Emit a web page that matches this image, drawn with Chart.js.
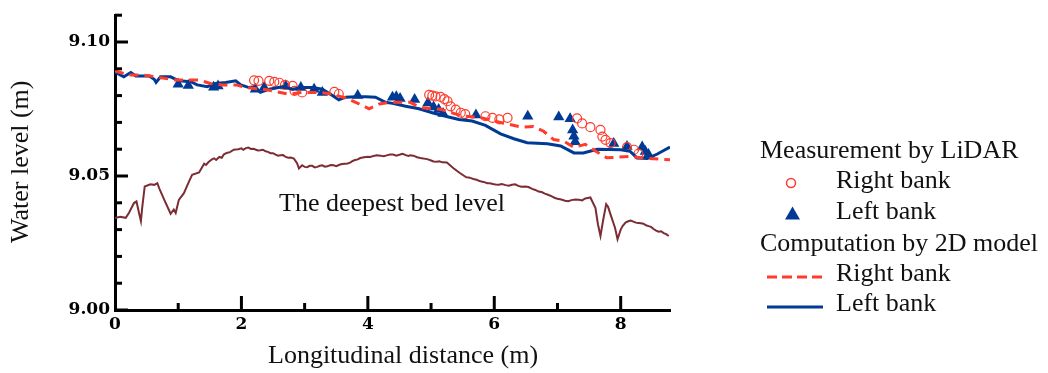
<!DOCTYPE html>
<html lang="en">
<head>
    <meta charset="UTF-8">
    <title>Water level profile</title>
    <style>
        body { margin: 0; background: #fff; }
        #wrap { position: relative; width: 1048px; height: 373px; }
        .txt {
            position: absolute;
            font-family: "Liberation Serif", "Times New Roman", serif;
            font-size: 26px;
            line-height: 30px;
            color: #111;
            white-space: nowrap;
        }
        #legend-marks { position: absolute; left: 0; top: 0; }
    </style>
</head>
<body>
<div id="wrap">
    <canvas id="chart"></canvas>

    <div class="txt" style="left:5px; top:243px; transform-origin:0 0; transform:rotate(-90deg);">Water level (m)</div>
    <div class="txt" style="left:268px; top:340px;">Longitudinal distance (m)</div>
    <div class="txt" style="left:279px; top:188px;">The deepest bed level</div>

    <div class="txt" style="left:760px; top:135px;">Measurement by LiDAR</div>
    <div class="txt" style="left:836px; top:165px;">Right bank</div>
    <div class="txt" style="left:836px; top:196px;">Left bank</div>
    <div class="txt" style="left:760px; top:228px;">Computation by 2D model</div>
    <div class="txt" style="left:836px; top:258px;">Right bank</div>
    <div class="txt" style="left:836px; top:288px;">Left bank</div>

    <svg id="legend-marks" width="1048" height="373">
        <circle cx="791" cy="183" r="4.5" fill="none" stroke="#ff3b2b" stroke-width="1.5"/>
        <polygon points="785,219.5 800,219.5 792.5,206.5" fill="#003a94"/>
        <line x1="767" y1="277" x2="823" y2="277" stroke="#ff3b2b" stroke-width="3" stroke-dasharray="10,5"/>
        <line x1="767" y1="307" x2="823" y2="307" stroke="#003a94" stroke-width="3"/>
    </svg>
</div>

<script src="https://cdn.jsdelivr.net/npm/chart.js"></script>
<script>
    // tick labels shown on the axes
    const xTickLabels = ['0', '2', '4', '6', '8'];
    const yTickLabels = ['9.00', '9.05', '9.10'];

    // deepest bed level
    const bedX = [
        0.00, 0.08, 0.17, 0.22, 0.30, 0.34, 0.38, 0.41, 0.43, 0.47,
        0.56, 0.62, 0.67, 0.70, 0.78, 0.88, 0.93, 0.96, 1.01, 1.09,
        1.17, 1.22, 1.33, 1.41, 1.44, 1.48, 1.51, 1.54, 1.57, 1.60,
        1.65, 1.69, 1.72, 1.75, 1.78, 1.82, 1.85, 1.88, 1.91, 1.95,
        2.00, 2.03, 2.07, 2.11, 2.15, 2.19, 2.22, 2.26, 2.30, 2.34,
        2.38, 2.42, 2.46, 2.50, 2.54, 2.58, 2.62, 2.66, 2.70, 2.74,
        2.78, 2.83, 2.88, 2.91, 2.96, 3.00, 3.04, 3.08, 3.12, 3.16,
        3.20, 3.24, 3.28, 3.32, 3.36, 3.41, 3.46, 3.50, 3.55, 3.59,
        3.64, 3.68, 3.72, 3.76, 3.80, 3.84, 3.88, 3.94, 4.00, 4.04,
        4.09, 4.14, 4.20, 4.25, 4.30, 4.35, 4.40, 4.45, 4.51, 4.55,
        4.60, 4.64, 4.67, 4.72, 4.78, 4.83, 4.88, 4.94, 5.00, 5.04,
        5.09, 5.13, 5.18, 5.25, 5.30, 5.36, 5.45, 5.52, 5.56, 5.60,
        5.63, 5.67, 5.72, 5.78, 5.83, 5.89, 5.93, 5.98, 6.02, 6.07,
        6.12, 6.18, 6.23, 6.28, 6.33, 6.38, 6.43, 6.49, 6.54, 6.60,
        6.65, 6.70, 6.75, 6.80, 6.85, 6.91, 6.96, 7.00, 7.06, 7.12,
        7.17, 7.22, 7.28, 7.34, 7.39, 7.44, 7.48, 7.52, 7.60, 7.64,
        7.68, 7.72, 7.77, 7.80, 7.84, 7.91, 7.95, 8.00, 8.03, 8.08,
        8.13, 8.16, 8.20, 8.24, 8.28, 8.32, 8.36, 8.40, 8.44, 8.48,
        8.52, 8.56, 8.60, 8.64, 8.68, 8.72, 8.76];
    const bedY = [
        9.0343, 9.0348, 9.0344, 9.0362, 9.0399, 9.0405, 9.0362, 9.0332, 9.0381, 9.0461,
        9.0469, 9.0467, 9.0473, 9.0454, 9.0411, 9.0359, 9.0375, 9.0362, 9.0411, 9.0436,
        9.0479, 9.0504, 9.0513, 9.0546, 9.0541, 9.0552, 9.0558, 9.0563, 9.0566, 9.0560,
        9.0571, 9.0568, 9.0580, 9.0584, 9.0587, 9.0589, 9.0594, 9.0598, 9.0599, 9.0600,
        9.0603, 9.0598, 9.0604, 9.0606, 9.0601, 9.0602, 9.0599, 9.0595, 9.0596, 9.0598,
        9.0592, 9.0590, 9.0585, 9.0585, 9.0580, 9.0576, 9.0577, 9.0578, 9.0571, 9.0568,
        9.0569, 9.0565, 9.0548, 9.0528, 9.0540, 9.0534, 9.0533, 9.0538, 9.0538, 9.0532,
        9.0534, 9.0538, 9.0540, 9.0535, 9.0536, 9.0541, 9.0540, 9.0537, 9.0542, 9.0545,
        9.0546, 9.0547, 9.0550, 9.0556, 9.0560, 9.0562, 9.0567, 9.0570, 9.0572, 9.0571,
        9.0575, 9.0577, 9.0576, 9.0574, 9.0577, 9.0580, 9.0580, 9.0576, 9.0580, 9.0583,
        9.0578, 9.0575, 9.0577, 9.0576, 9.0570, 9.0567, 9.0565, 9.0563, 9.0558, 9.0554,
        9.0553, 9.0555, 9.0551, 9.0550, 9.0540, 9.0528, 9.0512, 9.0501, 9.0495, 9.0494,
        9.0492, 9.0489, 9.0486, 9.0480, 9.0478, 9.0473, 9.0473, 9.0470, 9.0468, 9.0467,
        9.0470, 9.0466, 9.0464, 9.0467, 9.0469, 9.0463, 9.0460, 9.0461, 9.0459, 9.0452,
        9.0448, 9.0442, 9.0440, 9.0434, 9.0430, 9.0424, 9.0418, 9.0415, 9.0412, 9.0408,
        9.0406, 9.0410, 9.0412, 9.0411, 9.0409, 9.0416, 9.0418, 9.0420, 9.0381, 9.0320,
        9.0276, 9.0332, 9.0395, 9.0385, 9.0356, 9.0307, 9.0264, 9.0300, 9.0313, 9.0327,
        9.0332, 9.0334, 9.0330, 9.0326, 9.0325, 9.0324, 9.0322, 9.0316, 9.0313, 9.0310,
        9.0302, 9.0296, 9.0292, 9.0294, 9.0287, 9.0283, 9.0276];

    // computation by 2D model, right bank (dashed)
    const calcRightX = [0.00, 0.22, 0.43, 0.64, 0.96, 1.14, 1.33, 1.51, 1.70, 1.91, 2.09, 2.40, 2.75, 2.96, 3.23, 3.44, 3.65,
        3.86, 4.02, 4.18, 4.36, 4.67, 4.83, 5.15, 5.47, 5.78, 6.15, 6.44, 6.62, 6.78, 6.94, 7.10, 7.26, 7.44, 7.60, 7.78,
        7.94, 8.15, 8.36, 8.68, 8.78];
    const calcRightY = [9.0892, 9.0877, 9.0877, 9.0870, 9.0858, 9.0858, 9.0858, 9.0845, 9.0840, 9.0840, 9.0830, 9.0822,
        9.0805, 9.0812, 9.0812, 9.0805, 9.0791, 9.0769, 9.0751, 9.0769, 9.0775, 9.0775, 9.0755, 9.0749, 9.0725, 9.0718,
        9.0697, 9.0682, 9.0685, 9.0667, 9.0636, 9.0630, 9.0607, 9.0618, 9.0593, 9.0568, 9.0570, 9.0573, 9.0567, 9.0562,
        9.0561];

    // computation by 2D model, left bank (solid)
    const calcLeftX = [0.00, 0.06, 0.14, 0.25, 0.33, 0.54, 0.62, 0.65, 0.72, 0.88, 1.01, 1.20, 1.30, 1.46, 1.59, 1.75, 1.91,
        1.99, 2.12, 2.20, 2.30, 2.44, 2.65, 2.81, 2.96, 3.12, 3.28, 3.44, 3.54, 3.65, 3.81, 3.97, 4.12, 4.28, 4.39, 4.60,
        4.81, 5.02, 5.23, 5.44, 5.65, 5.86, 6.10, 6.31, 6.52, 6.84, 7.05, 7.26, 7.41, 7.63, 8.00, 8.15, 8.26, 8.42, 8.58,
        8.78];
    const calcLeftY = [9.0888, 9.0880, 9.0870, 9.0886, 9.0873, 9.0873, 9.0861, 9.0849, 9.0870, 9.0870, 9.0855, 9.0852,
        9.0840, 9.0833, 9.0845, 9.0849, 9.0855, 9.0840, 9.0830, 9.0833, 9.0812, 9.0824, 9.0833, 9.0824, 9.0830, 9.0830,
        9.0824, 9.0800, 9.0784, 9.0794, 9.0796, 9.0796, 9.0794, 9.0775, 9.0771, 9.0760, 9.0751, 9.0736, 9.0723, 9.0711,
        9.0705, 9.0689, 9.0657, 9.0639, 9.0624, 9.0620, 9.0612, 9.0586, 9.0586, 9.0600, 9.0598, 9.0592, 9.0567, 9.0565,
        9.0582, 9.0608];

    // measurement by LiDAR, right bank (open circles)
    const lidarRightX = [2.20, 2.27, 2.44, 2.52, 2.60, 2.69, 2.81, 2.84, 2.96, 3.47, 3.54, 4.97, 5.02, 5.07, 5.15, 5.21,
        5.26, 5.31, 5.39, 5.47, 5.54, 5.86, 5.97, 6.08, 6.21, 7.31, 7.39, 7.52, 7.68, 7.71, 7.76, 7.84, 8.10, 8.21, 8.28];
    const lidarRightY = [9.0857, 9.0855, 9.0855, 9.0851, 9.0848, 9.0840, 9.0836, 9.0818, 9.0812, 9.0814, 9.0806, 9.0803,
        9.0800, 9.0797, 9.0795, 9.0787, 9.0779, 9.0760, 9.0748, 9.0736, 9.0731, 9.0723, 9.0717, 9.0711, 9.0717, 9.0715,
        9.0696, 9.0682, 9.0672, 9.0647, 9.0635, 9.0623, 9.0608, 9.0598, 9.0583];

    // measurement by LiDAR, left bank (filled triangles)
    const lidarLeftX = [1.00, 1.16, 1.56, 1.63, 2.22, 2.36, 2.70, 2.94, 3.15, 3.28, 3.84, 4.39, 4.45, 4.51, 4.74, 4.95,
        5.04, 5.12, 5.19, 5.71, 6.53, 7.02, 7.20, 7.24, 7.26, 7.28, 7.89, 8.10, 8.34, 8.39, 8.44];
    const lidarLeftY = [9.0842, 9.0838, 9.0831, 9.0836, 9.0824, 9.0830, 9.0836, 9.0830, 9.0824, 9.0812, 9.0800, 9.0794,
        9.0796, 9.0789, 9.0785, 9.0772, 9.0757, 9.0748, 9.0733, 9.0728, 9.0723, 9.0720, 9.0714, 9.0672, 9.0648, 9.0628,
        9.0621, 9.0610, 9.0608, 9.0591, 9.0580];

    const toPoints = (xs, ys) => xs.map((x, i) => ({ x: x, y: ys[i] }));

    // ticks drawn inward from the axes, long for labelled ones
    const inwardTicks = {
        id: 'inwardTicks',
        afterDraw(chart) {
            const { ctx, chartArea, scales } = chart;
            ctx.save();
            ctx.strokeStyle = '#000';
            ctx.lineWidth = 3;
            scales.y.ticks.forEach(t => {
                const py = scales.y.getPixelForValue(t.value);
                const len = yTickLabels.includes(t.value.toFixed(2)) ? 13 : 7;
                ctx.beginPath();
                ctx.moveTo(chartArea.left, py);
                ctx.lineTo(chartArea.left + len, py);
                ctx.stroke();
            });
            scales.x.ticks.forEach(t => {
                if (t.value === 0) return;
                const px = scales.x.getPixelForValue(t.value);
                const len = xTickLabels.includes(String(Math.round(t.value))) ? 14 : 7;
                ctx.beginPath();
                ctx.moveTo(px, chartArea.bottom);
                ctx.lineTo(px, chartArea.bottom - len);
                ctx.stroke();
            });
            ctx.restore();
        }
    };

    const tickFont = { family: '"DejaVu Serif", serif', size: 17, weight: 'bold' };

    new Chart(document.getElementById('chart'), {
        type: 'line',
        data: {
            datasets: [
                {
                    label: 'The deepest bed level',
                    data: toPoints(bedX, bedY),
                    borderColor: '#7b2d33',
                    borderWidth: 2,
                    pointRadius: 0,
                    tension: 0
                },
                {
                    label: 'Computation by 2D model - Right bank',
                    data: toPoints(calcRightX, calcRightY),
                    borderColor: '#ff3b2b',
                    borderWidth: 3,
                    borderDash: [9, 6],
                    pointRadius: 0,
                    tension: 0
                },
                {
                    label: 'Computation by 2D model - Left bank',
                    data: toPoints(calcLeftX, calcLeftY),
                    borderColor: '#003a94',
                    borderWidth: 3,
                    pointRadius: 0,
                    tension: 0
                },
                {
                    label: 'Measurement by LiDAR - Right bank',
                    data: toPoints(lidarRightX, lidarRightY),
                    showLine: false,
                    pointStyle: 'circle',
                    pointRadius: 4.5,
                    pointBorderWidth: 1.2,
                    pointBorderColor: '#ff3b2b',
                    pointBackgroundColor: 'rgba(0,0,0,0)'
                },
                {
                    label: 'Measurement by LiDAR - Left bank',
                    data: toPoints(lidarLeftX, lidarLeftY),
                    showLine: false,
                    pointStyle: 'triangle',
                    pointRadius: 6.5,
                    pointBorderWidth: 0,
                    pointBackgroundColor: '#003a94',
                    pointBorderColor: '#003a94'
                }
            ]
        },
        options: {
            responsive: true,
            maintainAspectRatio: false,
            animation: false,
            layout: { padding: { left: 0, top: 11, right: 378, bottom: 0 } },
            plugins: {
                legend: { display: false },
                tooltip: { enabled: false }
            },
            scales: {
                x: {
                    type: 'linear',
                    min: 0,
                    max: 8.78,
                    grid: { display: false, drawTicks: false },
                    border: { display: true, color: '#000', width: 3 },
                    ticks: {
                        stepSize: 1,
                        includeBounds: false,
                        autoSkip: false,
                        maxRotation: 0,
                        padding: 4,
                        color: '#000',
                        font: tickFont,
                        callback: v => xTickLabels.includes(String(v)) ? String(v) : ''
                    },
                    afterFit: s => { s.height = 63; }
                },
                y: {
                    min: 9.00,
                    max: 9.11,
                    grid: { display: false, drawTicks: false },
                    border: { display: true, color: '#000', width: 3 },
                    ticks: {
                        stepSize: 0.01,
                        autoSkip: false,
                        padding: 5,
                        color: '#000',
                        font: tickFont,
                        callback: v => yTickLabels.includes(v.toFixed(2)) ? v.toFixed(2) : ''
                    },
                    afterFit: s => { s.width = 115; }
                }
            }
        },
        plugins: [inwardTicks]
    });
</script>
</body>
</html>
